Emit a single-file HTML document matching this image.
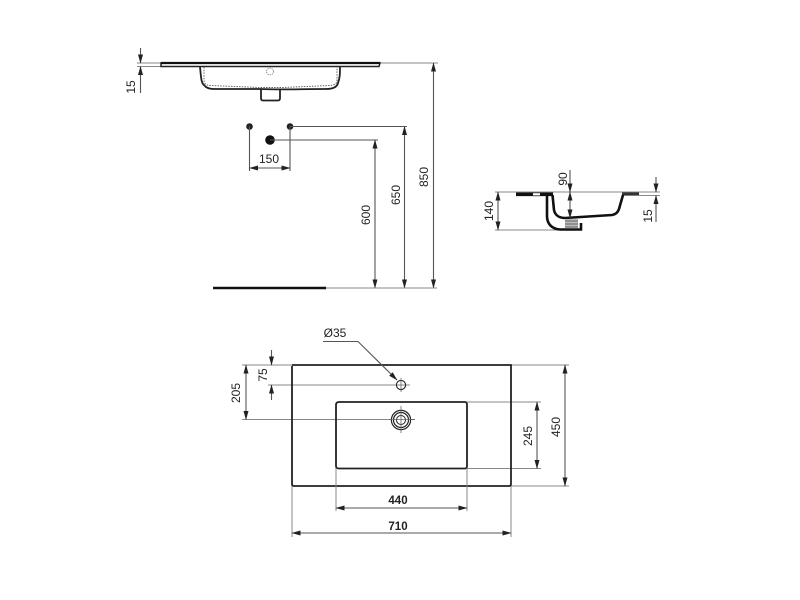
<!DOCTYPE html>
<html>
<head>
<meta charset="utf-8">
<style>
html,body{margin:0;padding:0;background:#fff;width:800px;height:600px;overflow:hidden}
svg{display:block}
text{font-family:"Liberation Sans",sans-serif;font-size:12px;fill:#222;text-anchor:middle}
.d{stroke:#555;stroke-width:1.100;fill:none}
.e{stroke:#888;stroke-width:1;fill:none}
.o{stroke:#222;stroke-width:1.800;fill:none}
.t{stroke:#111;stroke-width:2.600;fill:none}
</style>
</head>
<body>
<svg width="800" height="600" viewBox="0 0 800 600" xmlns="http://www.w3.org/2000/svg">
<defs>
<marker id="a" markerWidth="9" markerHeight="6" refX="8.500" refY="3" orient="auto-start-reverse" markerUnits="userSpaceOnUse"><path d="M0 .5L9 3L0 5.500Z" fill="#222"/></marker>
</defs>

<!-- top section -->
<path d="M137 63H161M137 66.500H161" class="e"/>
<path d="M140.500 48V63" class="d" marker-end="url(#a)"/>
<path d="M140.500 93V66.500" class="d" marker-end="url(#a)"/>
<text transform="translate(135,87) rotate(-90)">15</text>
<path d="M380 63H438" class="e"/>
<path d="M161 63H380L379 66.500H161Z" fill="#fff" stroke="#222" stroke-width="1.500"/>
<path d="M161 63H380" stroke="#111" stroke-width="2.200"/>
<path d="M200 67C201 76 201 83 204 85C206 88 209 89 214 89H260C280 90 300 89 326 89C333 89 337 87 338 83C340 78 340 73 340 67" class="o"/>
<path d="M204 67V80C204 84 206 85 210 85.500L260 87.500H282L330 85.500C334 85 337 84 337 80V67" fill="none" stroke="#555" stroke-width=".9" stroke-dasharray="1.500 1.200"/>
<path d="M261 89V98C261 100 262 100.500 263 100.500H278C279 100.500 280 100 280 98V89" class="o" stroke-width="1.300"/>
<circle cx="270" cy="71.500" r="3.400" fill="none" stroke="#666" stroke-width=".8" stroke-dasharray="1.200 1"/>

<!-- dots -->
<circle cx="249.500" cy="126.500" r="3.300" fill="#222"/>
<circle cx="290" cy="126.500" r="3.300" fill="#222"/>
<circle cx="270" cy="140" r="4.800" fill="#111"/>
<path d="M290 126.500H407M270 140H378" class="d"/>
<path d="M249.500 126V171M290 126V171" class="d"/>
<path d="M249.500 168H290" class="d" marker-start="url(#a)" marker-end="url(#a)"/>
<text x="269" y="163">150</text>

<!-- heights -->
<path d="M375 140V288" class="d" stroke-width="1.200" marker-start="url(#a)" marker-end="url(#a)"/>
<path d="M404.500 126.500V288" class="d" stroke-width="1.200" marker-start="url(#a)" marker-end="url(#a)"/>
<path d="M433.500 63V288" class="d" stroke-width="1.200" marker-start="url(#a)" marker-end="url(#a)"/>
<text transform="translate(370,215) rotate(-90)">600</text>
<text transform="translate(400,195) rotate(-90)">650</text>
<text transform="translate(428,177) rotate(-90)">850</text>
<path d="M213 288H326" stroke="#111" stroke-width="2.500"/>
<path d="M326 288H437" class="e" stroke="#777"/>

<!-- side section -->
<path d="M495 192H660M495 230H570" class="e"/>
<path d="M516 194.300H533M540 194.300H553" stroke="#111" stroke-width="3.600"/>
<path d="M533 192.800H540M533 195.800H540" stroke="#444" stroke-width="1"/>
<path d="M622 194H639" stroke="#333" stroke-width="3.200"/>
<path d="M639 195.500H660" class="e"/>
<path d="M547 195V216C547 224 552 229 560 229.500H581V223" class="t" stroke-width="2.400"/>
<path d="M552.500 195L554 210C555 215 559 218 565 218L612 215C616 214.500 618 212 619 209L623 195" class="t" stroke-width="2.800"/>
<path d="M565 219H578V228H565Z" fill="#bbb"/>
<path d="M565 221H578M565 224H578M565 227H578" stroke="#666" stroke-width="1"/>
<path d="M570 170V192" class="d" marker-end="url(#a)"/>
<path d="M570 192V218" class="d" marker-start="url(#a)" marker-end="url(#a)"/>
<text transform="translate(567,179) rotate(-90)">90</text>
<path d="M498 192V230" class="d" marker-start="url(#a)" marker-end="url(#a)"/>
<text transform="translate(493,211) rotate(-90)">140</text>
<path d="M656 177V192" class="d" marker-end="url(#a)"/>
<path d="M656 222V195.500" class="d" marker-end="url(#a)"/>
<text transform="translate(652,216) rotate(-90)">15</text>

<!-- plan -->
<path d="M242 365H292M511 365H569M268 385H410M242 419.500H415M467 402H541M467 468.500H541M511 486H569" class="e" stroke="#777"/>
<path d="M292 366V484Q292 486 294 486H509Q511 486 511 484V365H292" class="o"/>
<path d="M336 405Q336 402 339 402H465Q467 402 467 405V466Q467 468.500 465 468.500H339Q336 468.500 336 466Z" class="o"/>
<circle cx="401" cy="385" r="4.600" fill="none" stroke="#222" stroke-width="1.100"/>
<path d="M401 378V392" stroke="#666" stroke-width=".8"/>
<circle cx="401" cy="420" r="9.600" fill="#fff" stroke="#222" stroke-width="1.200"/>
<circle cx="401" cy="420" r="7.500" fill="none" stroke="#222" stroke-width="1.200"/>
<circle cx="401" cy="420" r="4.500" fill="none" stroke="#222" stroke-width="1"/>
<path d="M389 419.500H415M401 406V433" stroke="#666" stroke-width=".8"/>
<text x="335" y="337">Ø35</text>
<path d="M323 341.500H358L397 380" class="d" stroke="#333" marker-end="url(#a)"/>
<path d="M246 365V419.500" class="d" marker-start="url(#a)" marker-end="url(#a)"/>
<text transform="translate(240,393) rotate(-90)">205</text>
<path d="M271.500 350V365" class="d" marker-end="url(#a)"/>
<path d="M271.500 400V385" class="d" marker-end="url(#a)"/>
<text transform="translate(267,375) rotate(-90)">75</text>
<path d="M537 402V468.500" class="d" stroke="#333" marker-start="url(#a)" marker-end="url(#a)"/>
<text transform="translate(532,436) rotate(-90)">245</text>
<path d="M565 365V486" class="d" marker-start="url(#a)" marker-end="url(#a)"/>
<text transform="translate(560,427) rotate(-90)">450</text>
<path d="M336 468V511M467 468V511M292 486V537M511 486V537" class="e" stroke="#777"/>
<path d="M336 508H467" class="d" stroke="#333" marker-start="url(#a)" marker-end="url(#a)"/>
<text x="398" y="504" style="font-weight:bold;font-size:11.500px">440</text>
<path d="M292 533H511" class="d" marker-start="url(#a)" marker-end="url(#a)"/>
<text x="398" y="530" style="font-weight:bold;font-size:11.500px">710</text>
</svg>
</body>
</html>
